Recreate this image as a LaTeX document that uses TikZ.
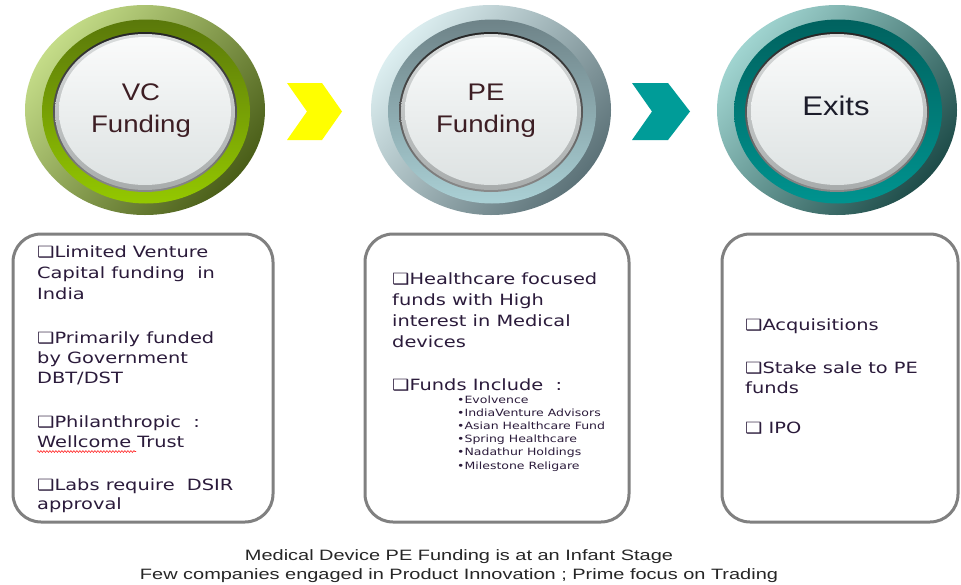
\documentclass[tikz,border=0pt]{standalone}
\usepackage{fontspec}
\setmainfont{Liberation Sans}
\newfontfamily\boxfont[FakeStretch=1.25]{DejaVu Sans}
\newfontfamily\circfont[FakeStretch=1.15]{Liberation Sans}
\newfontfamily\capfont[FakeStretch=1.33]{Liberation Sans}
\usetikzlibrary{decorations.pathmorphing}
\definecolor{boxtext}{HTML}{2B1B3B}
\definecolor{circtext}{HTML}{3D1E24}
\definecolor{exittext}{HTML}{1C1C2A}
\definecolor{boxline}{HTML}{808080}
\definecolor{chevyellow}{HTML}{FFFF00}
\definecolor{chevteal}{HTML}{009C98}
\definecolor{vcA}{HTML}{C4DC88}\definecolor{vcB}{HTML}{4A5E18}\definecolor{vcC}{HTML}{5A780A}\definecolor{vcD}{HTML}{94C800}
\definecolor{peA}{HTML}{DCEEF0}\definecolor{peB}{HTML}{5C7278}\definecolor{peC}{HTML}{6E8388}\definecolor{peD}{HTML}{AAD0D5}
\definecolor{exA}{HTML}{A0D4D0}\definecolor{exB}{HTML}{1E4C49}\definecolor{exC}{HTML}{00625F}\definecolor{exD}{HTML}{00938F}
\definecolor{rimtop}{HTML}{262626}\definecolor{rimbot}{HTML}{8A8A8A}
\definecolor{btnA}{HTML}{D9DCDC}\definecolor{btnB}{HTML}{A8ACAC}
\definecolor{capA}{HTML}{FAFBFB}\definecolor{capM}{HTML}{EDF0F0}\definecolor{capB}{HTML}{DDE2E2}
\newcommand\mybutton[6]{%
  \shade[top color=#3, bottom color=#4, shading angle=50] (#1,#2) ellipse [x radius=120pt, y radius=105pt];
  \shade[top color=#5, bottom color=#6] (#1+1,#2+1.5) ellipse [x radius=104pt, y radius=92pt];
  \shade[top color=rimtop, bottom color=rimbot] (#1,#2+2) ellipse [x radius=92pt, y radius=80pt];
  \shade[top color=btnA, bottom color=btnB] (#1,#2+2) ellipse [x radius=90pt, y radius=78pt];
  \shade[top color=capA, middle color=capM, bottom color=capB] (#1,#2+1) ellipse [x radius=86pt, y radius=74pt];
}
\tikzset{
  panel/.style={draw=boxline, line width=3pt, fill=white, rounded corners=28pt},
  para/.style={anchor=base west, align=left, inner sep=0pt, text=boxtext,
    font=\boxfont\fontsize{15.5}{21}\selectfont},
  smalllist/.style={anchor=base west, align=left, inner sep=0pt, text=boxtext,
    font=\boxfont\fontsize{10}{13.2}\selectfont},
  circlabel/.style={anchor=base, align=center, inner sep=0pt, text=circtext,
    font=\circfont\fontsize{24}{32}\selectfont},
  caption/.style={anchor=base, align=center, inner sep=0pt, text=black!85,
    font=\capfont\fontsize{15}{19}\selectfont}
}
\begin{document}
\begin{tikzpicture}[x=1pt,y=-1pt]
\useasboundingbox[fill=white] (0,0) rectangle (961,584);
% buttons
\mybutton{145}{110}{vcA}{vcB}{vcC}{vcD}
\mybutton{491}{110}{peA}{peB}{peC}{peD}
\mybutton{837}{110}{exA}{exB}{exC}{exD}
% (anchors below are at the baseline of each node's last line)
\node[circlabel] (vc) at (141,132) {VC\\Funding};
\node[circlabel] (pe) at (486,132) {PE\\Funding};
\node[circlabel, text=exittext, font=\circfont\fontsize{27}{32}\selectfont] (exits) at (836,115) {Exits};
% chevrons
\fill[chevyellow] (287,83) -- (322,83) -- (342,111.5) -- (322,140) -- (287,140) -- (307,111.5) -- cycle;
\fill[chevteal] (632,83) -- (668,83) -- (690,111.5) -- (668,140) -- (632,140) -- (652,111.5) -- cycle;
% panels
\draw[panel] (13,234) rectangle (273,522);
\draw[panel] (365,234) rectangle (629,522);
\draw[panel] (722,234) rectangle (958,522);
% panel 1
\node[para] (p1a) at (37,299) {❑Limited Venture\\Capital funding \ in\\India};
\node[para, font=\boxfont\fontsize{15.5}{20}\selectfont] (p1b) at (37,383) {❑Primarily funded\\by Government\\DBT/DST};
\node[para, font=\boxfont\fontsize{15.5}{20}\selectfont] (p1c) at (37,447) {❑Philanthropic \ :\\Wellcome Trust};
\node[para, font=\boxfont\fontsize{15.5}{19}\selectfont] (p1d) at (37,509) {❑Labs require \ DSIR\\approval};
\coordinate (wavyA) at (37,451.5);
\coordinate (wavyB) at (136,451.5);
\draw[red!85, line width=0.6pt, decorate, decoration={snake, amplitude=0.9pt, segment length=3pt}] (wavyA) -- (wavyB);
% panel 2
\node[para, font=\boxfont\fontsize{15.5}{20.7}\selectfont] (p2a) at (392,347) {❑Healthcare focused\\funds with High\\interest in Medical\\devices};
\node[para] (p2b) at (392,390) {❑Funds Include \ :};
\node[smalllist] (p2c) at (457,469) {•Evolvence\\•IndiaVenture Advisors\\•Asian Healthcare Fund\\•Spring Healthcare\\•Nadathur Holdings\\•Milestone Religare};
% panel 3
\node[para] (p3a) at (745,330) {❑Acquisitions};
\node[para, font=\boxfont\fontsize{15.5}{20}\selectfont] (p3b) at (745,393) {❑Stake sale to PE\\funds};
\node[para] (p3c) at (745,433) {❑ IPO};
% caption
\node[caption] (cap) at (459,579) {Medical Device PE Funding is at an Infant Stage\\Few companies engaged in Product Innovation ; Prime focus on Trading};
\end{tikzpicture}
\end{document}
